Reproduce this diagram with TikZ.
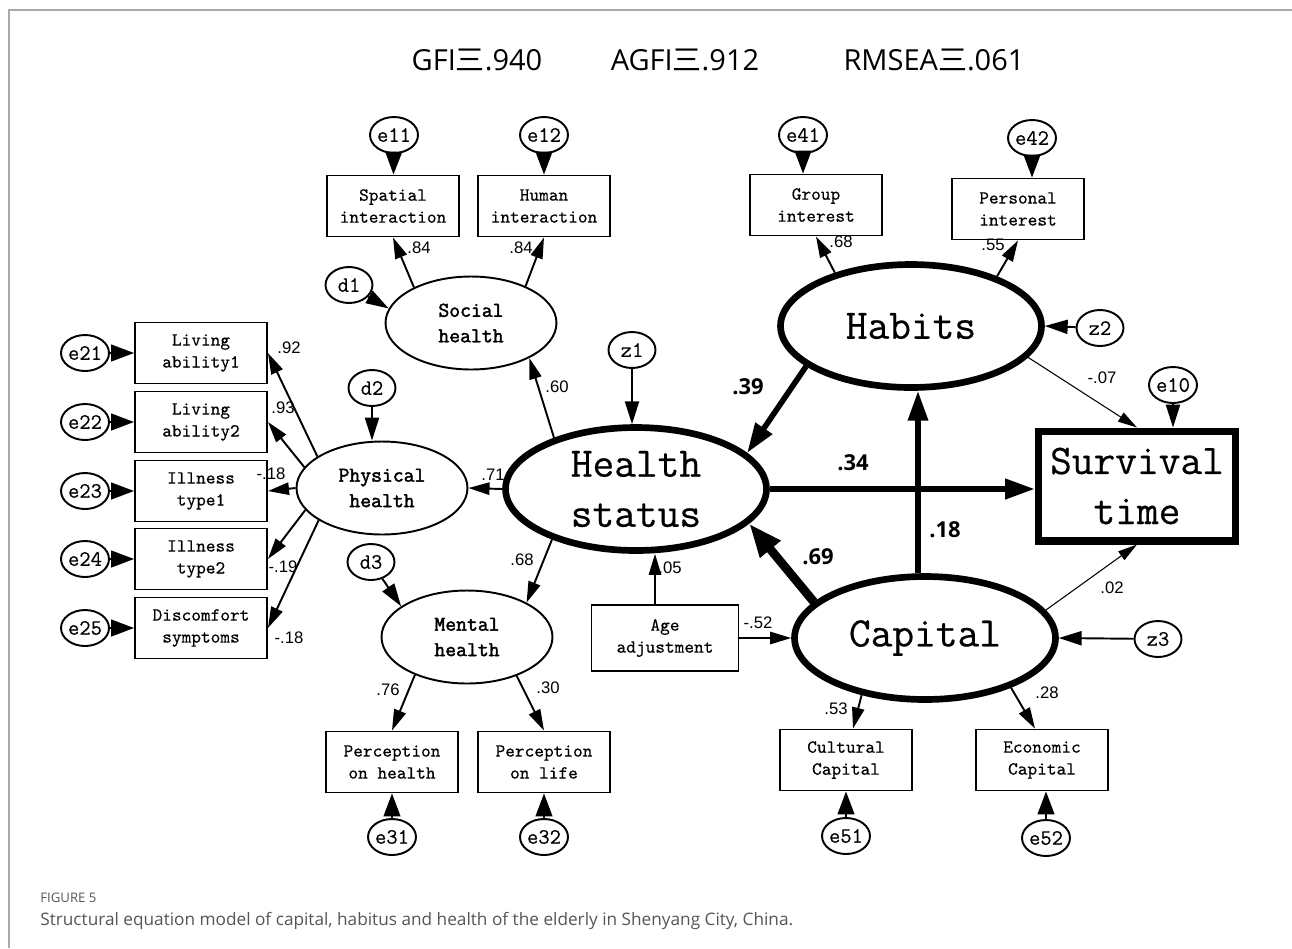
\documentclass[tikz,border=0pt]{standalone}
\usepackage{fontspec}
\newfontfamily\cjk{Noto Sans CJK SC}
\newfontfamily\hdfont{Open Sans}
\newfontfamily\numfont{Liberation Sans}
\newfontfamily\amosfont{Latin Modern Mono}[FakeBold=0.4]
\newfontfamily\amosbold{Latin Modern Mono}[FakeBold=2]
\usetikzlibrary{arrows.meta,shapes.geometric}
\definecolor{capgray}{HTML}{555555}
\definecolor{framegray}{HTML}{AAAAAA}
\tikzset{
  obs/.style={draw, line width=1.1pt, minimum width=2.64cm, minimum height=1.22cm,
    align=center, inner sep=1pt, font=\fontsize{10.5}{12.5}\selectfont\amosfont},
  err/.style={draw, ellipse, line width=1.1pt, minimum width=0.94cm, minimum height=0.72cm,
    inner sep=0pt, font=\fontsize{12.5}{14}\selectfont\amosfont},
  lat/.style={draw, ellipse, line width=1.1pt, minimum width=3.42cm, minimum height=1.86cm,
    align=center, inner sep=0pt, font=\fontsize{12}{14.5}\selectfont\amosbold},
  biglat/.style={draw, ellipse, line width=3.8pt, minimum width=5.22cm, minimum height=2.46cm,
    align=center, inner sep=0pt, font=\fontsize{24}{28.5}\selectfont\amosfont},
  outc/.style={draw, line width=4pt, minimum width=3.94cm, minimum height=2.2cm,
    align=center, inner sep=0pt, font=\fontsize{24}{28.5}\selectfont\amosfont},
  pth/.style={line width=1.1pt, -{Triangle[length=12pt,width=7pt]}},
  res/.style={line width=1.1pt, -{Triangle[length=13pt,width=9.5pt]}},
  dist/.style={line width=1.1pt, -{Triangle[length=13pt,width=8pt]}},
  thk/.style={line width=3.2pt, -{Triangle[length=17pt,width=11pt]}},
  thn/.style={line width=0.6pt, -{Triangle[length=11pt,width=6pt]}},
  lbl/.style={inner sep=0pt, font=\fontsize{9.5}{11}\selectfont\numfont},
  blbl/.style={inner sep=0pt, font=\fontsize{12.5}{14}\selectfont\hdfont\bfseries},
  hdr/.style={inner sep=0pt, font=\fontsize{16.5}{19}\selectfont\hdfont}
}
\begin{document}
\begin{tikzpicture}[x=0.02cm,y=-0.02cm]
      \useasboundingbox (0,0) rectangle (1292,948);
      \draw[framegray, line width=0.6pt] (9,948) -- (9,10) -- (1292,10);
      %%%%%%%%%%%%%%%%%%%%%%%%%%%%%%%%%%%%%%%%%%%%%%%
      \node[hdr] at (477,60) (gfi)   {GFI{\cjk 三}.940};
      \node[hdr] at (685,60) (agfi)  {AGFI{\cjk 三}.912};
      \node[hdr] at (934,60) (rmsea) {RMSEA{\cjk 三}.061};
      %%%%%%%%%%%%%%%%%%%%%%%%%%%%%%%%%%%%%%%%%%%%%%%
      \node[err] at (394,135) (e11)   {e11};
      \node[err] at (544,135) (e12)   {e12};
      \node[obs] at (393,206) (spat)  {Spatial\\interaction};
      \node[obs] at (544,206) (human) {Human\\interaction};
      \node[lat] at (471,323) (soc)   {Social\\health};
      \node[err] at (349,285) (d1)    {d1};
      \draw[res] (e11) -- (spat);
      \draw[res] (e12) -- (human);
      \draw[pth] (soc.148) -- (spat.south);
      \draw[pth] (soc.34) -- (human.south);
      \draw[dist] (d1) -- (soc.170);
      \node[lbl] at (419,248) (w11) {.84};
      \node[lbl] at (521,248) (w12) {.84};
      %%%%%%%%%%%%%%%%%%%%%%%%%%%%%%%%%%%%%%%%%%%%%%%
      \node[err] at (85,353) (e21) {e21};
      \node[err] at (85,422) (e22) {e22};
      \node[err] at (85,491) (e23) {e23};
      \node[err] at (85,559) (e24) {e24};
      \node[err] at (85,628) (e25) {e25};
      \node[obs] at (201,353) (la1) {Living\\ability1};
      \node[obs] at (201,422) (la2) {Living\\ability2};
      \node[obs] at (201,491) (it1) {Illness\\type1};
      \node[obs] at (201,559) (it2) {Illness\\type2};
      \node[obs] at (201,628) (dis) {Discomfort\\symptoms};
      \node[lat] at (382,488) (phys) {Physical\\health};
      \node[err] at (372,388) (d2) {d2};
      \draw[res] (e21) -- (la1);
      \draw[res] (e22) -- (la2);
      \draw[res] (e23) -- (it1);
      \draw[res] (e24) -- (it2);
      \draw[res] (e25) -- (dis);
      \draw[pth] (phys.154) -- (la1.east);
      \draw[pth] (phys.165) -- (la2.east);
      \draw[pth] (phys.west) -- (it1.east);
      \draw[pth] (phys.196) -- (it2.east);
      \draw[pth] (phys.207) -- (dis.east);
      \draw[dist] (d2) -- (d2 |- phys.north);
      \node[lbl] at (289,348) (w21) {.92};
      \node[lbl] at (283,408) (w22) {.93};
      \node[lbl] at (271,474) (w23) {-.18};
      \node[lbl] at (283,567) (w24) {-.19};
      \node[lbl] at (289,638) (w25) {-.18};
      %%%%%%%%%%%%%%%%%%%%%%%%%%%%%%%%%%%%%%%%%%%%%%%
      \node[lat] at (467,637) (ment) {Mental\\health};
      \node[err] at (371,562) (d3) {d3};
      \node[obs] at (392,762) (poh) {Perception\\on health};
      \node[obs] at (544,762) (pol) {Perception\\on life};
      \node[err] at (392,837) (e31) {e31};
      \node[err] at (544,837) (e32) {e32};
      \draw[dist] (d3) -- (ment.155);
      \draw[pth] (ment.216) -- (poh.north);
      \draw[pth] (ment.-38) -- (pol.north);
      \draw[res] (e31) -- (poh);
      \draw[res] (e32) -- (pol);
      \node[lbl] at (388,690) (w31) {.76};
      \node[lbl] at (548,688) (w32) {.30};
      %%%%%%%%%%%%%%%%%%%%%%%%%%%%%%%%%%%%%%%%%%%%%%%
      \node[biglat] at (636,489) (hs) {Health\\status};
      \node[err] at (632,350) (z1) {z1};
      \node[obs, minimum width=2.94cm, minimum height=1.32cm] at (665,638) (age) {Age\\adjustment};
      \draw[dist] (z1) -- (z1 |- hs.north);
      \draw[pth] (hs.148) -- (soc.-31);
      \draw[pth] (hs.west) -- (phys.east);
      \draw[pth] (hs.211) -- (ment.30);
      \draw[pth] ([xshift=-0.2cm]age.north) -- ([xshift=-0.2cm]age.north |- hs.south);
      \node[lbl] at (557,387) (w41) {.60};
      \node[lbl] at (493,475) (w42) {.71};
      \node[lbl] at (522,560) (w43) {.68};
      \node[lbl] at (670,568) (w44) {.05};
      %%%%%%%%%%%%%%%%%%%%%%%%%%%%%%%%%%%%%%%%%%%%%%%
      \node[biglat] at (911,326) (hab) {Habits};
      \node[err] at (803,135) (e41) {e41};
      \node[err] at (1032,138) (e42) {e42};
      \node[obs] at (816,205) (grp) {Group\\interest};
      \node[obs] at (1018,209) (pers) {Personal\\interest};
      \node[err] at (1100,328) (z2) {z2};
      \draw[res] (e41) -- (e41 |- grp.north);
      \draw[res] (e42) -- (e42 |- pers.north);
      \draw[pth] (hab.145) -- (grp.south);
      \draw[pth] (hab.30) -- (pers.south);
      \draw[dist] (z2) -- (hab.east);
      \node[lbl] at (841,242) (w51) {.68};
      \node[lbl] at (993,245) (w52) {.55};
      %%%%%%%%%%%%%%%%%%%%%%%%%%%%%%%%%%%%%%%%%%%%%%%
      \node[outc] at (1137,486) (surv) {Survival\\time};
      \node[err] at (1173,385) (e10) {e10};
      \draw[dist] (e10) -- (e10 |- surv.north);
      \draw[thn] (hab.-15) -- (surv.north);
      \node[lbl] at (1102,378) (w61) {-.07};
      %%%%%%%%%%%%%%%%%%%%%%%%%%%%%%%%%%%%%%%%%%%%%%%
      \node[biglat] at (925,638) (capital) {Capital};
      \node[err] at (1158,639) (z3) {z3};
      \node[obs] at (846,760) (cult) {Cultural\\Capital};
      \node[obs] at (1042,760) (econ) {Economic\\Capital};
      \node[err] at (846,836) (e51) {e51};
      \node[err] at (1046,838) (e52) {e52};
      \draw[dist] (z3) -- (capital.east);
      \draw[pth] (age.east) -- (capital.west);
      \draw[pth] (capital.222) -- ([xshift=0.14cm]cult.north);
      \draw[pth] (capital.-30) -- ([xshift=-0.14cm]econ.north);
      \draw[res] (e51) -- (e51 |- cult.south);
      \draw[res] (e52) -- (e52 |- econ.south);
      \draw[thn] (capital.13) -- (surv.south);
      \node[lbl] at (758,623) (w71) {-.52};
      \node[lbl] at (836,709) (w72) {.53};
      \node[lbl] at (1047,693) (w73) {.28};
      \node[lbl] at (1112,588) (w74) {.02};
      %%%%%%%%%%%%%%%%%%%%%%%%%%%%%%%%%%%%%%%%%%%%%%%
      \draw[thk] (hab.201) -- (hs.18);
      \draw[thk, line width=3.4pt] (hs.east) -- (hs.east -| surv.west);
      \draw[thk] ([xshift=-0.14cm]capital.north) -- ([xshift=0.14cm]hab.south);
      \draw[thk, line width=5pt, -{Triangle[length=19pt,width=14pt]}] (capital.162) -- (hs.-17);
      \node[blbl] at (748,387) (b1) {.39};
      \node[blbl] at (853,463) (b2) {.34};
      \node[blbl] at (945,530) (b3) {.18};
      \node[blbl] at (818,557) (b4) {.69};
      %%%%%%%%%%%%%%%%%%%%%%%%%%%%%%%%%%%%%%%%%%%%%%%
      \node[anchor=west, inner sep=0pt, text=capgray, font=\fontsize{7.5}{9}\selectfont\hdfont] at (40,898) (fig) {FIGURE 5};
      \node[anchor=west, inner sep=0pt, text=capgray, font=\fontsize{9.8}{12}\selectfont\hdfont] at (40,921) (captxt) {Structural equation model of capital, habitus and health of the elderly in Shenyang City, China.};
\end{tikzpicture}
\end{document}
